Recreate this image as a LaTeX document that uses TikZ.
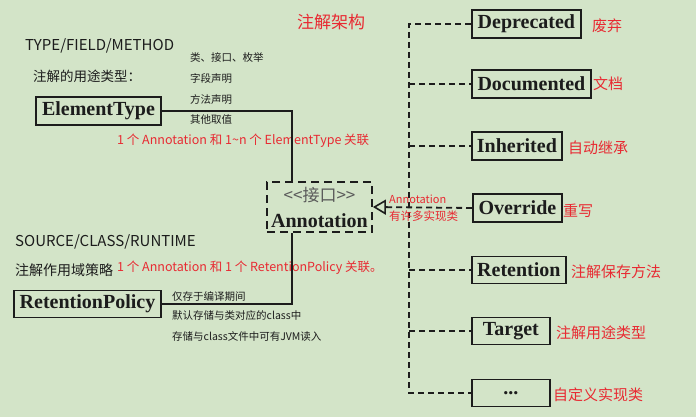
\documentclass[tikz,border=0pt]{standalone}
\usepackage{fontspec}
\setmainfont{Liberation Serif}
\newfontfamily\cjk{Noto Sans CJK SC}
\usetikzlibrary{arrows.meta,calc}
\definecolor{bg}{RGB}{211,228,200}
\definecolor{redt}{RGB}{232,42,50}
\definecolor{ink}{RGB}{28,28,28}
\definecolor{grayt}{RGB}{90,90,90}
\begin{document}
\begin{tikzpicture}[x=1pt,y=-1pt,
  box/.style={draw=ink, line width=1.8pt, text=ink, inner sep=0pt, minimum height=28pt,
    font=\bfseries\fontsize{20}{22}\selectfont},
  rbox/.style={box, anchor=west},
  solidline/.style={draw=ink, line width=1.8pt},
  dashline/.style={draw=ink, line width=1.8pt, dash pattern=on 6pt off 4pt},
  lbl/.style={anchor=west, inner sep=0pt, text=ink},
  sz/.style={font=\cjk\fontsize{#1}{#1}\selectfont},
  rlbl/.style={anchor=west, inner sep=0pt, text=redt},
]
\fill[bg] (0,0) rectangle (696,417);
\useasboundingbox (0,0) rectangle (696,417);

% title
\node[text=redt, sz=17, inner sep=0pt] (title) at (331,22) {注解架构};

% left top
\node[lbl, sz=15] (tfm) at (25,46) {TYPE/FIELD/METHOD};
\node[lbl, sz=13.5] (use) at (33,76) {注解的用途类型：};
\node[lbl, sz=10.5] (e1) at (190,58) {类、接口、枚举};
\node[lbl, sz=10.5] (e2) at (190,79) {字段声明};
\node[lbl, sz=10.5] (e3) at (190,100) {方法声明};
\node[lbl, sz=10.5] (e4) at (190,120) {其他取值};
\node[box, minimum width=125pt] (et) at (98.5,111) {ElementType};
\node[rlbl, sz=12.5] (r1) at (117,141) {1 个 Annotation 和 1\textasciitilde n 个 ElementType 关联};

% annotation box
\node[draw=ink, line width=1.8pt, dash pattern=on 8pt off 5pt, minimum width=105pt, minimum height=50pt, inner sep=0pt] (ann) at (319.5,207) {};
\node[text=grayt, sz=17, inner sep=0pt] (annS) at (319.5,195) {<{}<接口>{}>};
\node[text=ink, inner sep=0pt, font=\bfseries\fontsize{20}{22}\selectfont] (annT) at (319.5,221) {Annotation};

% left bottom
\node[lbl, sz=15] (scr) at (15,242) {SOURCE/CLASS/RUNTIME};
\node[lbl, sz=14] (pol) at (15,270) {注解作用域策略};
\node[rlbl, sz=12.5] (r2) at (117,268) {1 个 Annotation 和 1 个 RetentionPolicy 关联。};
\node[box, minimum width=147pt, minimum height=27pt] (rp) at (87.5,304) {RetentionPolicy};
\node[lbl, sz=10.5] (p1) at (172,296) {仅存于编译期间};
\node[lbl, sz=10.5] (p2) at (172,316) {默认存储与类对应的class中};
\node[lbl, sz=10.5] (p3) at (172,336) {存储与class文件中可有JVM读入};

\draw[solidline] (et.east) -| ([xshift=26pt]ann.north west);
\draw[solidline] (rp.east) -| ([xshift=26pt]ann.south west);

% right column
\node[rbox, minimum width=109pt] (dep) at (471,24) {Deprecated};
\node[rbox, minimum width=119pt] (doc) at (471,84) {Documented};
\node[rbox, minimum width=90pt] (inh) at (471,146) {Inherited};
\node[rbox, minimum width=89pt] (ovr) at (472,208) {Override};
\node[rbox, minimum width=94pt, minimum height=27pt] (ret) at (471,270) {Retention};
\node[rbox, minimum width=78pt, minimum height=27pt] (tar) at (471,331) {Target};
\node[rbox, minimum width=78pt, minimum height=27pt] (etc) at (471,393) {...};

\node[rlbl, sz=15] (l1) at (592,26) {废弃};
\node[rlbl, sz=15] (l2) at (593,84) {文档};
\node[rlbl, sz=15] (l3) at (568,148) {自动继承};
\node[rlbl, sz=15] (l4) at (563,211) {重写};
\node[rlbl, sz=15] (l5) at (571,272) {注解保存方法};
\node[rlbl, sz=15] (l6) at (556,333) {注解用途类型};
\node[rlbl, sz=15] (l7) at (553,395) {自定义实现类};

\coordinate (vtop) at (409,24);
\coordinate (vbot) at (409,393);
\draw[dashline] (dep.west) -- (vtop) -- (vbot) -- (etc.west);
\draw[dashline] (doc.west -| vtop) -- (doc.west);
\draw[dashline] (inh.west -| vtop) -- (inh.west);
\draw[dashline] (ret.west -| vtop) -- (ret.west);
\draw[dashline] (tar.west -| vtop) -- (tar.west);
\draw[dashline, -{Triangle[open, length=13pt, width=15pt, line width=1.6pt]}] (ovr.west) -- (ann.east);

\node[rlbl, sz=11] (a1) at (389,199) {Annotation};
\node[rlbl, sz=11.5] (a2) at (389,216) {有许多实现类};
\end{tikzpicture}
\end{document}
